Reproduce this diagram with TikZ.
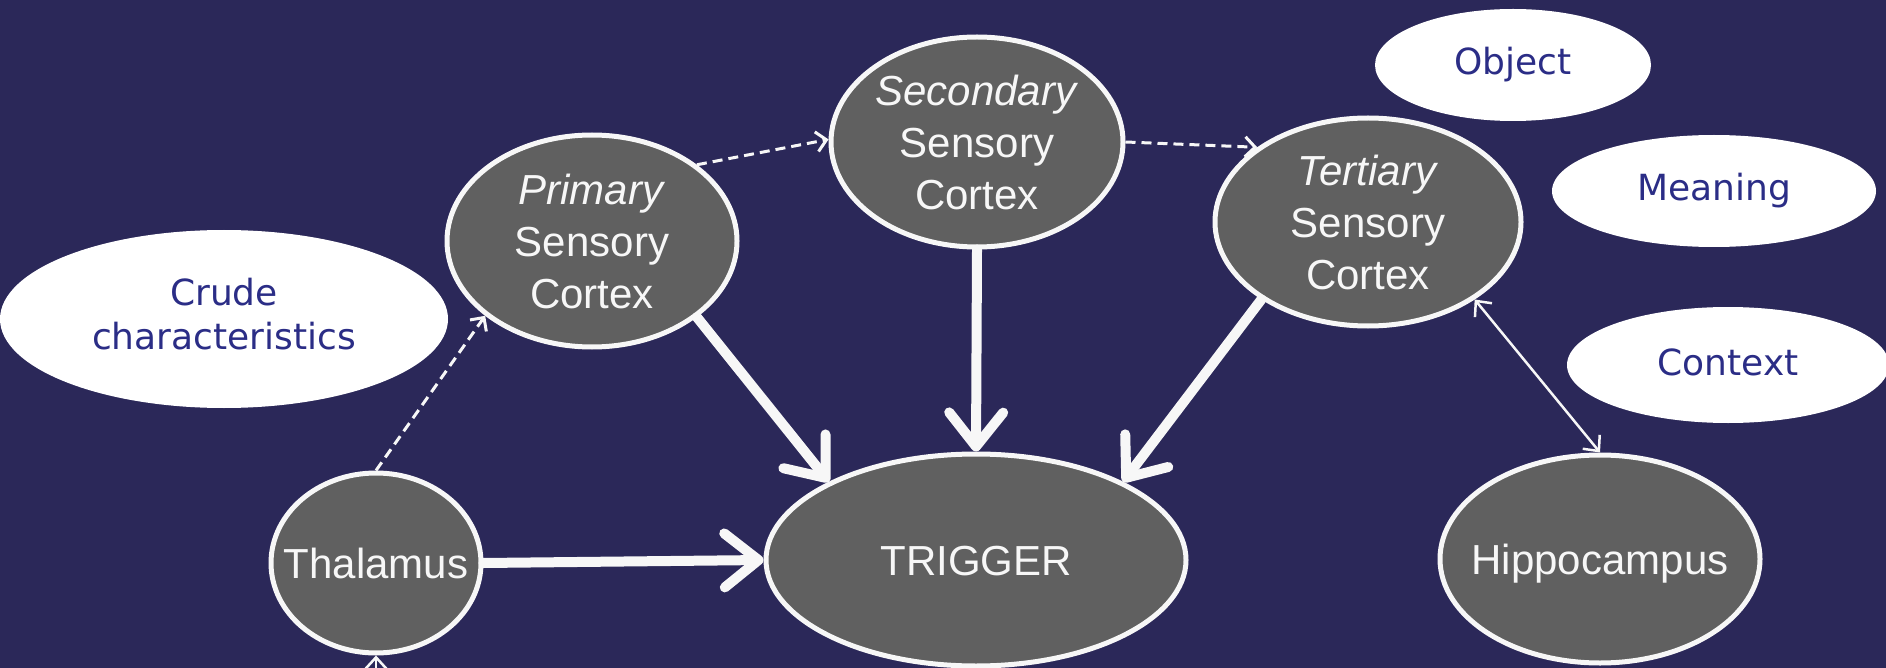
\documentclass[tikz,border=0pt]{standalone}
\usepackage{fontspec}
\setmainfont{Liberation Sans}
\newfontfamily\labelfont{DejaVu Sans}
\usetikzlibrary{shapes.geometric,arrows.meta}
\definecolor{bgnavy}{HTML}{2B2859}
\definecolor{nodegray}{HTML}{606060}
\definecolor{rimwhite}{HTML}{F7F7F7}
\definecolor{inkblue}{HTML}{2B2D86}
\begin{document}
\begin{tikzpicture}[x=1pt,y=-1pt,
  region/.style={ellipse, draw=rimwhite, line width=5pt, fill=nodegray, text=rimwhite,
    inner sep=0pt, font=\fontsize{42}{52}\selectfont},
  stacked/.style={region, align=center},
  single/.style={region, text height=30pt, text depth=0pt},
  aspect/.style={ellipse, fill=white, inner sep=0pt, align=center, text=inkblue,
    font=\labelfont\fontsize{36}{44}\selectfont},
  strong/.style={draw=rimwhite, line width=10pt, line cap=round,
    -{Straight Barb[length=34pt,width=54pt,line cap=round,line join=round]}},
  weak/.style={draw=rimwhite, line width=3pt, dash pattern=on 10pt off 6pt,
    -{Straight Barb[length=10pt,width=20pt]}},
  link/.style={draw=rimwhite, line width=2.5pt,
    -{Straight Barb[length=12pt,width=22pt]}},
]
\useasboundingbox (0,0) rectangle (1886,668);
\fill[bgnavy] (0,0) rectangle (1886,668);

% white feature bubbles
\node[aspect, minimum width=448pt, minimum height=178pt] (crude) at (224,319) {\raisebox{9pt}{\begin{tabular}{@{}c@{}}Crude\\[0pt]characteristics\end{tabular}}};
\node[aspect, minimum width=276pt, minimum height=112pt] (obj) at (1513,65) {\raisebox{6pt}{Object}};
\node[aspect, minimum width=324pt, minimum height=112pt] (mean) at (1714,191) {\raisebox{5pt}{Meaning}};
\node[aspect, minimum width=322pt, minimum height=116pt] (ctx) at (1728,365) {\raisebox{6pt}{Context}};

% brain regions
\node[stacked, minimum width=290pt, minimum height=212pt] (prim) at (592,241) {\textit{Primary}\\Sensory\\Cortex};
\node[stacked, minimum width=292pt, minimum height=210pt] (sec) at (977,142) {\textit{Secondary}\\Sensory\\Cortex};
\node[stacked, minimum width=306pt, minimum height=208pt] (tert) at (1368,222) {\textit{Tertiary}\\Sensory\\Cortex};
\node[single, minimum width=210pt, minimum height=180pt] (thal) at (376,563) {\makebox[0pt]{Thalamus}};
\node[single, minimum width=420pt, minimum height=212pt] (trig) at (976,560) {\makebox[0pt]{TRIGGER}};
\node[single, minimum width=320pt, minimum height=208pt] (hip) at (1600,559) {\makebox[0pt]{Hippocampus}};

\coordinate (inflow) at (376,720);

% cortical chain
\draw[weak] (thal.north) -- (prim.215);
\draw[weak] (prim.36) -- (sec.179);
\draw[weak] (sec.east) -- (tert.146);

% routes to the trigger
\draw[strong] (prim.-36) -- (trig.152);
\draw[strong] (sec.south) -- (trig.north);
\draw[strong] (tert.216) -- (trig.28);
\draw[strong] (thal.east) -- (trig.west);

% memory link and sensory input
\draw[link, {Straight Barb[length=12pt,width=22pt]}-{Straight Barb[length=12pt,width=22pt]}] (tert.-36) -- (hip.north);
\draw[link] (inflow) -- (thal.south);
\end{tikzpicture}
\end{document}
